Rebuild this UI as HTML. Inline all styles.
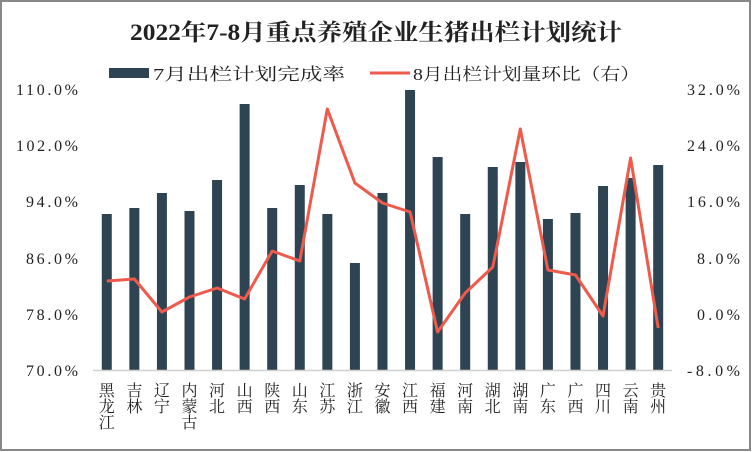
<!DOCTYPE html>
<html><head><meta charset="utf-8"><style>
html,body{margin:0;padding:0;background:#fff}
svg{display:block}
text{font-family:"Liberation Serif","Noto Serif CJK SC",serif;fill:#222}
</style></head><body>
<svg width="752" height="452" viewBox="0 0 752 452" xmlns="http://www.w3.org/2000/svg">
<rect x="1" y="1" width="749" height="449" fill="#fff" stroke="#888" stroke-width="2"/>
<text x="130" y="40" font-size="23" font-weight="bold" fill="#000" textLength="492" lengthAdjust="spacingAndGlyphs">2022年7-8月重点养殖企业生猪出栏计划统计</text>
<rect x="109" y="68" width="40" height="10" fill="#2e4452"/>
<text x="153" y="80" font-size="17" textLength="192" lengthAdjust="spacingAndGlyphs">7月出栏计划完成率</text>
<line x1="370" y1="73" x2="410" y2="73" stroke="#ee5a4c" stroke-width="3"/>
<text x="413" y="80" font-size="17" textLength="227" lengthAdjust="spacingAndGlyphs">8月出栏计划量环比（右）</text>
<g font-size="16" text-anchor="end">
<text x="78" y="95" textLength="62">110.0%</text>
<text x="78" y="151" textLength="62">102.0%</text>
<text x="78" y="207" textLength="52">94.0%</text>
<text x="78" y="264" textLength="52">86.0%</text>
<text x="78" y="320" textLength="52">78.0%</text>
<text x="78" y="376" textLength="52">70.0%</text>
</g>
<g font-size="16">
<text x="687" y="95" textLength="53">32.0%</text>
<text x="687" y="151" textLength="53">24.0%</text>
<text x="687" y="207" textLength="53">16.0%</text>
<text x="697" y="264" textLength="43">8.0%</text>
<text x="697" y="320" textLength="43">0.0%</text>
<text x="687" y="376" textLength="53">-8.0%</text>
</g>
<g fill="#2e4452" id="bars"></g>
<line x1="93" y1="370.5" x2="672" y2="370.5" stroke="#d0d0d0" stroke-width="1.5"/>
<polyline id="ln" fill="none" stroke="#ee5a4c" stroke-width="3" stroke-linejoin="round"/>
<g id="labs" font-size="16" text-anchor="middle"></g>
</svg>
<script>
var tops=[214,208,193,211,180,104,208,185,214,263,193,90,157,214,167,162,219,213,186,178,165];
var ly=[281,279,312,297,288,299,251,261,109,183,203,212,332,293,267,129,270,275,316,158,328];
var names=["黑龙江","吉林","辽宁","内蒙古","河北","山西","陕西","山东","江苏","浙江","安徽","江西","福建","河南","湖北","湖南","广东","广西","四川","云南","贵州"];
var ns="http://www.w3.org/2000/svg",b=document.getElementById("bars"),l=document.getElementById("labs"),pts=[];
for(var i=0;i<21;i++){var cx=93+27.57*(i+0.5);
var r=document.createElementNS(ns,"rect");r.setAttribute("x",cx-5);r.setAttribute("y",tops[i]);r.setAttribute("width",10);r.setAttribute("height",370-tops[i]);b.appendChild(r);
pts.push(cx.toFixed(1)+","+ly[i]);
for(var j=0;j<names[i].length;j++){var t=document.createElementNS(ns,"text");t.setAttribute("x",cx);t.setAttribute("y",396+j*16);t.textContent=names[i][j];l.appendChild(t);}}
document.getElementById("ln").setAttribute("points",pts.join(" "));
</script>
</body></html>
